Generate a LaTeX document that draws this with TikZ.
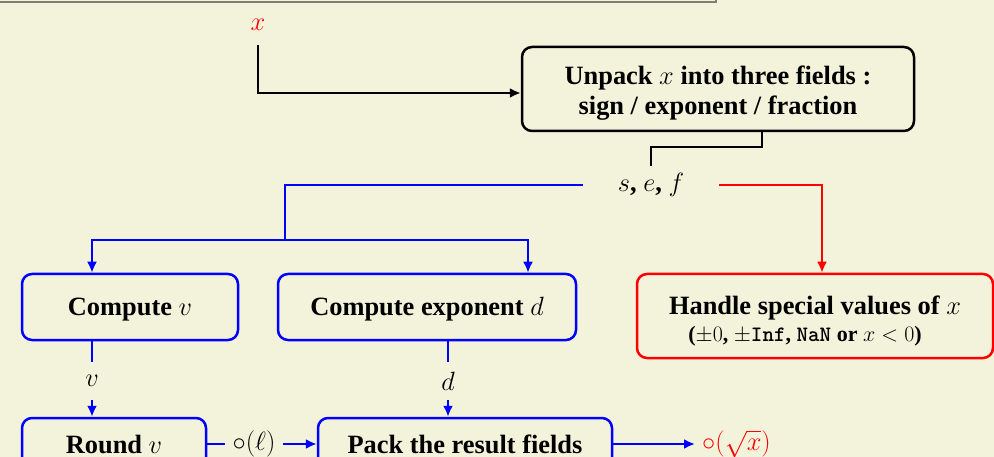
\RequirePackage{fix-cm}
\documentclass[tikz,border=0pt]{standalone}
\usepackage{fontspec}
\setmainfont{Liberation Serif}
\usetikzlibrary{arrows.meta}
\definecolor{bgc}{RGB}{243,243,220}
\definecolor{framec}{RGB}{128,128,112}
\begin{document}
\begin{tikzpicture}[x=1pt,y=-1pt,
  every node/.style={font=\fontsize{26.4}{30}\selectfont\bfseries},
  box/.style={draw, rounded corners=10pt, line width=2.5pt, align=center, inner sep=0pt},
  onebox/.style={box, text height=20pt, text depth=2pt},
  bl/.style={draw=blue, line width=2.2pt},
  rd/.style={draw=red, line width=2.2pt},
  bk/.style={draw=black, line width=2.5pt},
  tip/.style={-{Latex[length=11pt,width=10pt]}},
]
\useasboundingbox (0,0) rectangle (994,457);
\fill[bgc] (0,0) rectangle (994,457);
\clip (0,0) rectangle (994,457);
\draw[framec, line width=2.5pt] (-10,-40) rectangle (716,2);

\coordinate (c1) at (92,0);
\coordinate (c2) at (528,0);
\coordinate (c3) at (448,0);
\coordinate (c4) at (822,0);
\coordinate (split) at (285,240);

\node[text=red, inner xsep=0pt, inner ysep=14pt] (xin) at (258,25) {$x$};
\node[box, minimum width=392pt, minimum height=84pt] (unpack) at (718,89)
  {\rule{0pt}{27pt}Unpack $x$ into three fields :\\ sign / exponent / fraction};
\node[inner xsep=35pt, inner ysep=7pt] (sef) at (651,185) {$s$, $e$, $f$};
\node[onebox, draw=blue, minimum width=216pt, minimum height=66pt] (compv) at (130,307) {Compute $v$};
\node[onebox, draw=blue, minimum width=298pt, minimum height=66pt] (compd) at (427,307) {Compute exponent $d$};
\node[box, draw=red, minimum width=356pt, minimum height=84pt] (special) at (815,316)
  {\rule{0pt}{28pt}Handle special values of $x$\\[-3pt]
   {\fontsize{22}{25}\selectfont ($\pm0$, $\pm$\texttt{Inf}, \texttt{NaN} or $x<0$)\hspace*{20pt}}};
\node[inner xsep=0pt, inner ysep=13pt] (vlab) at (92,381) {$v$};
\node[inner xsep=0pt, inner ysep=10pt] (dlab) at (448,381) {$d$};
\node[onebox, draw=blue, minimum width=184pt, minimum height=52pt] (round) at (114,444) {Round $v$};
\node[onebox, draw=blue, minimum width=294pt, minimum height=52pt] (pack) at (465,444) {Pack the result fields};
\node[inner xsep=7pt] (ell) at (254,444) {$\circ(\ell)$};
\node[text=red, inner xsep=7pt, anchor=west] (out) at (695,444) {$\circ(\sqrt{x})$};

\draw[bk, tip] (xin) |- ([yshift=-4pt]unpack.west);
\draw[bk] ([xshift=44pt]unpack.south) -- ++(0,15) -| (sef.north);
\draw[bl] (sef.west) -| (split);
\draw[bl, tip] (split) -| (compv.north -| c1);
\draw[bl, tip] (split) -| (compd.north -| c2);
\draw[rd, tip] (sef.east) -| (special.north -| c4);
\draw[bl] (compv.south -| c1) -- (vlab);
\draw[bl, tip] (vlab) -- (round.north -| c1);
\draw[bl] (compd.south -| c3) -- (dlab);
\draw[bl, tip] (dlab) -- (pack.north -| c3);
\draw[bl] (round.east) -- (ell);
\draw[bl, tip] (ell) -- (pack.west);
\draw[bl, tip] (pack.east) -- (out);
\end{tikzpicture}
\end{document}
